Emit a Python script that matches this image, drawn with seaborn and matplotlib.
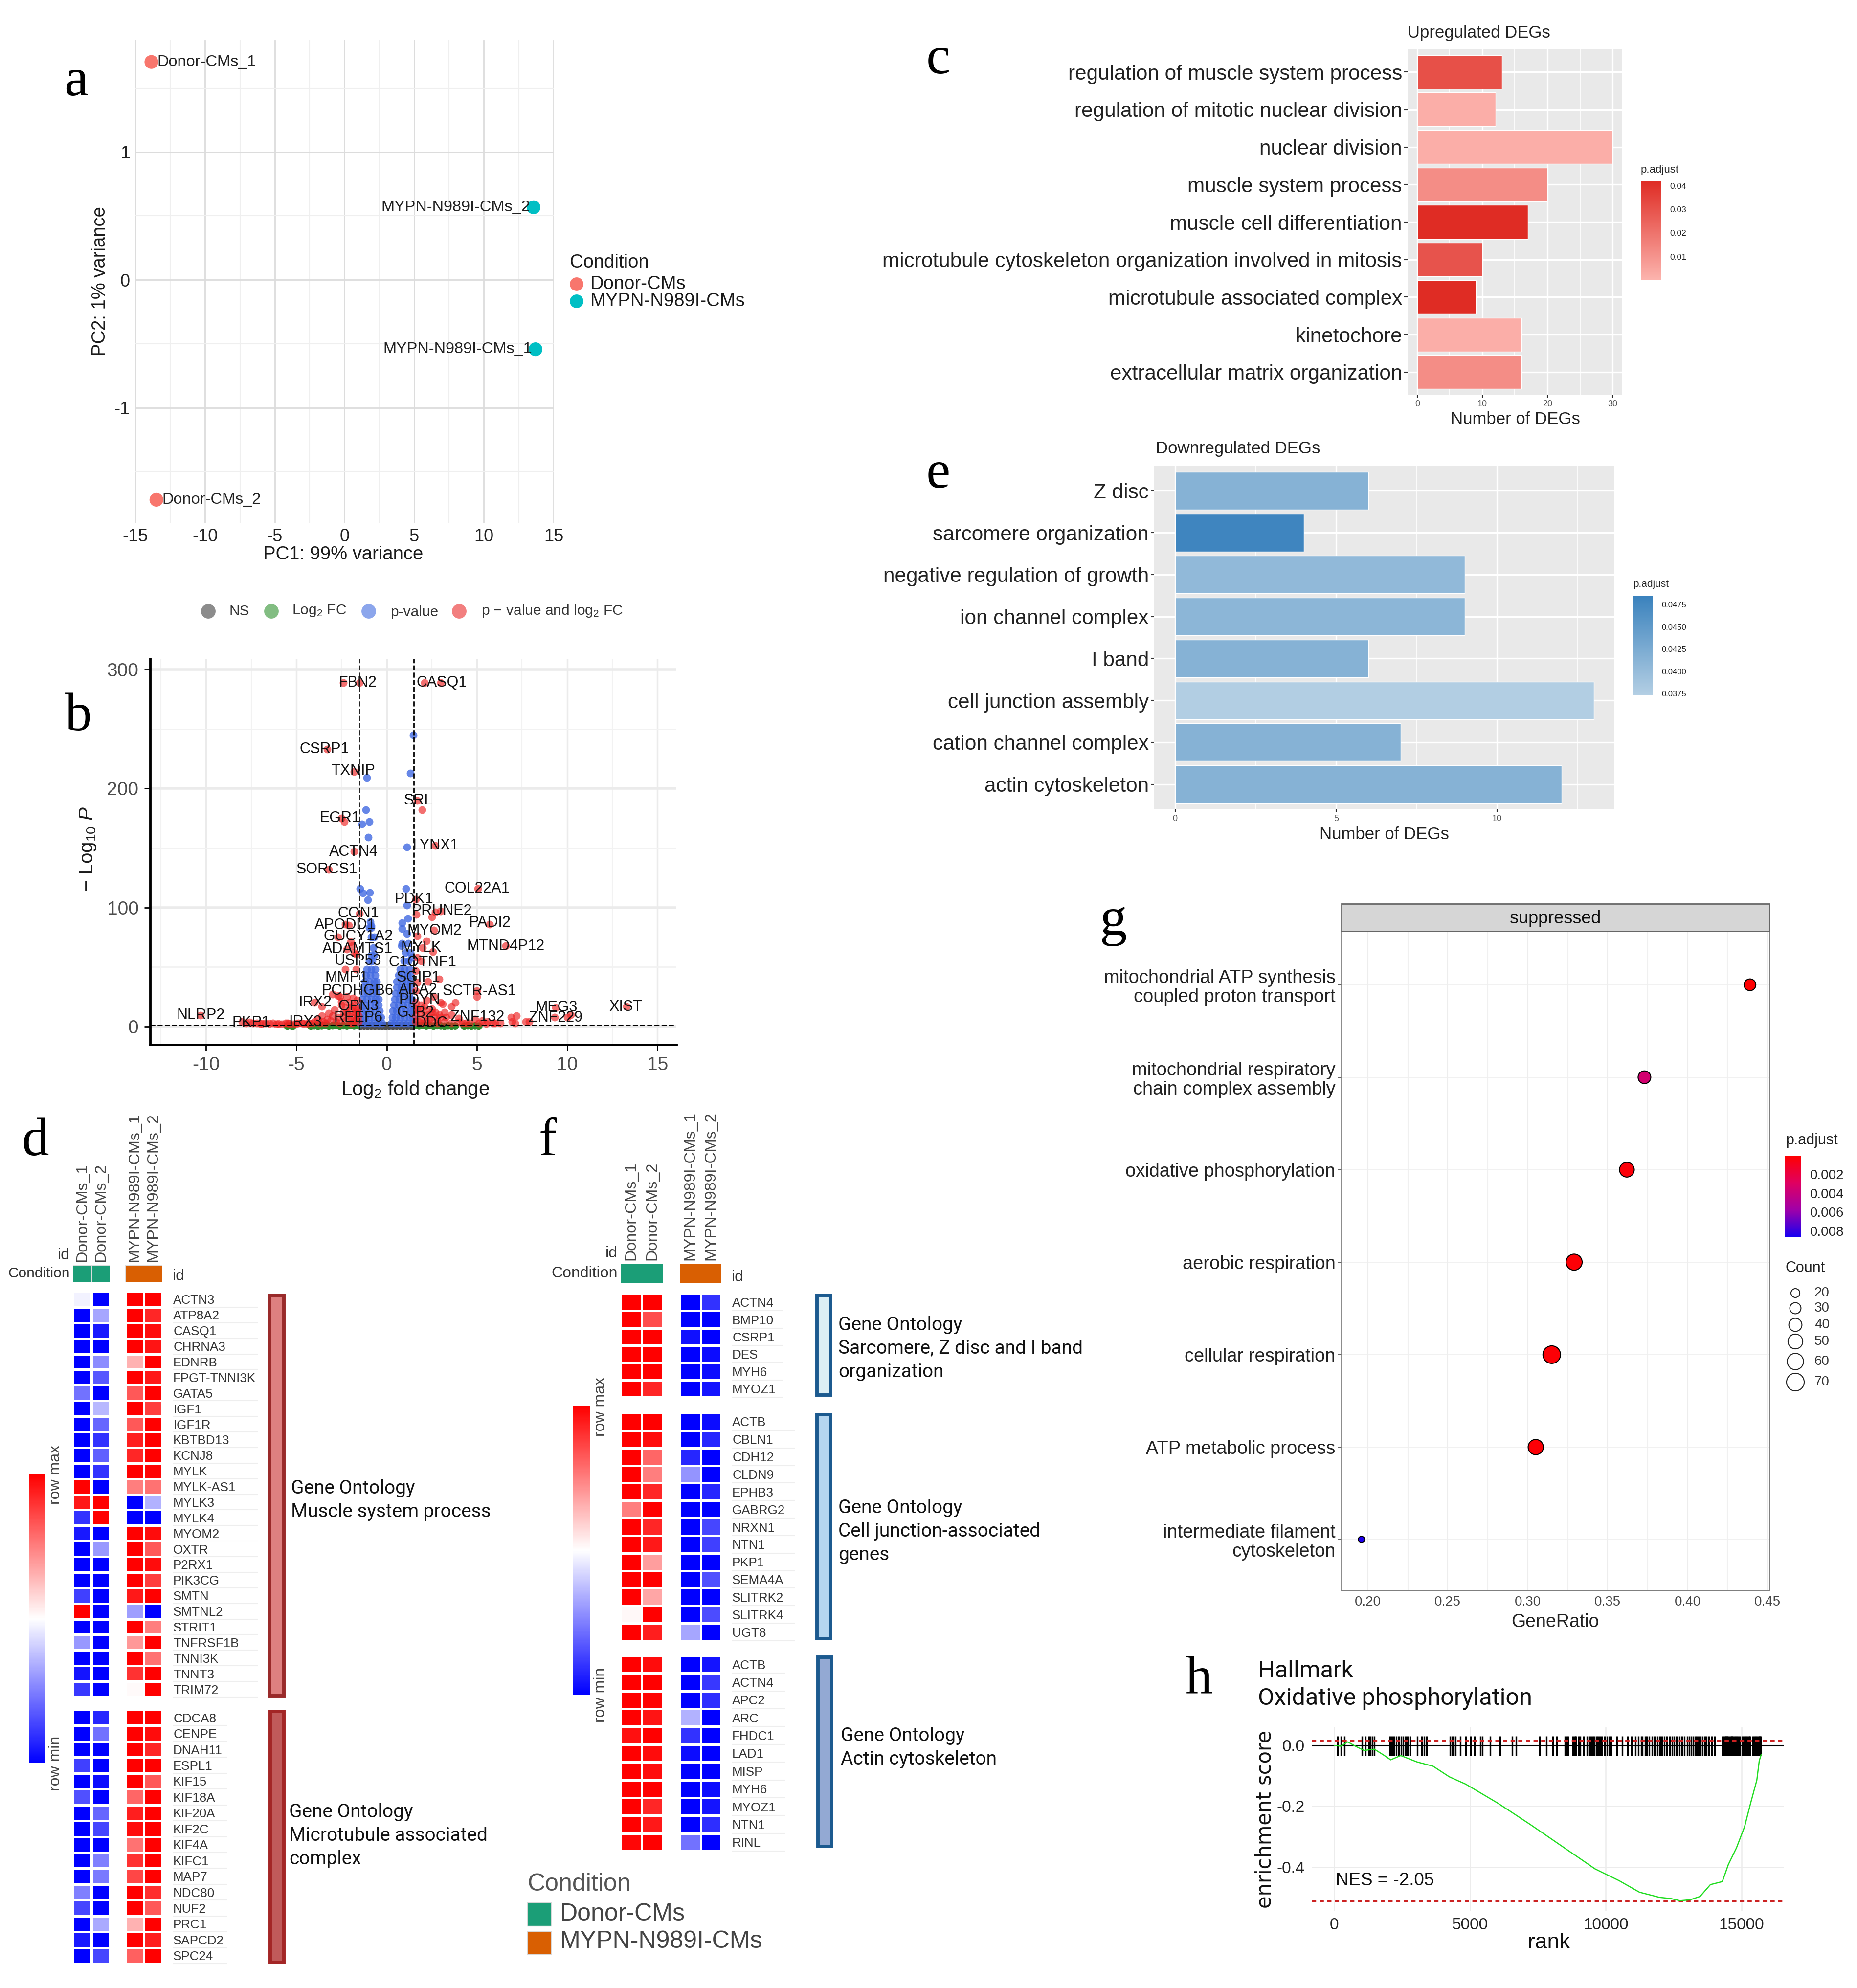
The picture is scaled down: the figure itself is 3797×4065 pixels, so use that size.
import matplotlib
matplotlib.use("Agg")
import matplotlib.pyplot as plt
import matplotlib as mpl
from matplotlib.colors import LinearSegmentedColormap, ListedColormap, Normalize
from matplotlib.patches import Rectangle
import numpy as np
import pandas as pd
import seaborn as sns

W, H = 3798, 4065

# panel a
pca_samples = ["Donor-CMs_1", "Donor-CMs_2", "MYPN-N989I-CMs_2", "MYPN-N989I-CMs_1"]
pca_condition = ["Donor-CMs", "Donor-CMs", "MYPN-N989I-CMs", "MYPN-N989I-CMs"]
pca_pc1 = [-13.86, -13.5, 13.56, 13.7]
pca_pc2 = [1.703, -1.72, 0.567, -0.543]

# panel b
volcano_genes = ["FBN2", "CASQ1", "CSRP1", "TXNIP", "SRL", "EGR1", "LYNX1", "ACTN4", "SORCS1", "COL22A1",
                 "PDK1", "PRUNE2", "CON1", "APODD1", "PADI2", "GUCY1A2", "MYOM2", "MTND4P12", "ADAMTS1",
                 "MYLK", "USP53", "C1QTNF1", "MMP1", "SGIP1", "PCDHGB6", "ADA2", "SCTR-AS1", "IRX2", "PDYN",
                 "OPN3", "MEG3", "XIST", "GJB2", "ZNF132", "ZNF229", "NLRP2", "PKP1", "IRX3", "REEP6", "DDC"]
volcano_label_x = [-1.6, 3.04, -3.45, -1.84, 1.75, -2.6, 2.71, -1.84, -3.3, 5.02,
                   1.5, 3.04, -1.56, -2.3, 5.7, -1.56, 2.64, 6.6, -1.6,
                   1.9, -1.6, 2.0, -2.23, 1.75, -1.6, 1.75, 5.13, -3.96, 1.82,
                   -1.56, 9.4, 13.25, 1.6, 5.04, 9.36, -10.3, -7.5, -4.5, -1.56, 2.5]
volcano_label_y = [289, 289, 233, 215, 190, 175, 152, 146.5, 132, 116,
                   107, 97, 95, 85, 87, 75.5, 80.5, 67.5, 65,
                   66, 55, 54, 41, 41, 30, 31, 29.5, 20, 22,
                   17, 16, 16.5, 11.5, 8, 7.5, 9.4, 3.3, 3.9, 7.4, 2.8]
grey_x = [-1.45, -1.25, -1.05, -0.85, -0.65, -0.45, -0.25, -0.05, 0.15, 0.35, 0.55, 0.75, 0.95, 1.15, 1.35, 1.45,
          -1.35, -1.15, -0.95, -0.75, -0.55, -0.35, -0.15, 0.05, 0.25, 0.45, 0.65, 0.85, 1.05, 1.25]
grey_y = [0.2, 0.3, 0.2, 0.3, 0.2, 0.3, 0.2, 0.2, 0.3, 0.2, 0.3, 0.2, 0.3, 0.2, 0.3, 0.2,
          0.9, 1.0, 0.9, 0.8, 0.9, 0.8, 0.7, 0.7, 0.8, 0.9, 0.8, 0.9, 1.0, 0.9]
green_x = [-5.5, -5.3, -5.2, -4.2, -4.0, -3.8, -3.6, -3.4, -3.2, -3.0, -2.8, -2.6, -2.4, -2.2, -2.0, -1.8, -1.6,
           1.6, 1.8, 2.0, 2.2, 2.4, 2.6, 2.8, 3.0, 3.2, 3.4, 3.6, 3.8, 4.3, 4.5, 4.7, 4.9, 5.1]
green_y = [0.3, 0.6, 0.2, 0.3, 0.6, 0.2, 0.5, 0.8, 0.3, 0.6, 0.9, 0.3, 0.7, 0.4, 0.9, 0.5, 1.0,
           1.0, 0.5, 0.9, 0.4, 0.8, 0.3, 0.7, 0.5, 0.2, 0.6, 0.3, 0.4, 0.3, 0.6, 0.3, 0.5, 0.3]
blue_x = [-1.45, -1.2, -0.95, -0.7, -0.45, -0.25, -1.45, -1.2, -0.95, -0.7, -0.45, -0.3,
          -1.4, -1.15, -0.9, -0.65, -0.4, -1.4, -1.15, -0.9, -0.65, -0.45,
          -1.35, -1.1, -0.85, -0.6, -0.45, -1.3, -1.05, -0.8, -0.55, -1.25, -1.0, -0.75, -0.55,
          -1.2, -0.95, -0.7, -0.55, -1.15, -0.9, -0.65, -1.1, -0.85, -0.65, -0.8, -0.95, -0.85, -0.7, -0.75,
          -0.85, -0.7, -0.95, -0.85, -0.9,
          -1.09, -1.14, -0.97, -1.37, -1.02, -1.49, -1.32, -0.93, -1.04, -0.86,
          0.25, 0.45, 0.7, 0.95, 1.2, 1.45, 0.3, 0.5, 0.75, 1.0, 1.25, 1.45,
          0.35, 0.55, 0.8, 1.05, 1.3, 1.45, 0.4, 0.65, 0.9, 1.15, 1.4,
          0.45, 0.7, 0.95, 1.2, 1.4, 0.5, 0.75, 1.0, 1.25, 0.55, 0.8, 1.05, 1.3,
          0.55, 0.85, 1.1, 1.3, 0.65, 0.9, 1.15, 1.3, 0.75, 1.0, 1.25, 0.95, 1.2, 1.05, 1.3, 0.85, 1.2,
          1.47, 1.31, 1.12, 1.08, 1.12, 1.17, 0.84, 0.84, 1.12, 0.82, 1.4]
blue_y = [3, 3, 3, 3, 3, 3, 8, 8, 8, 8, 8, 8,
          13, 13, 13, 13, 13, 18, 18, 18, 18, 18,
          23, 23, 23, 23, 23, 28, 28, 28, 28, 33, 33, 33, 33,
          38, 38, 38, 38, 43, 43, 43, 48, 48, 48, 55, 55, 60, 60, 66,
          75, 75, 83, 83, 88,
          209, 182, 172, 170, 159, 116, 112, 112.7, 106.6, 84.6,
          3, 3, 3, 3, 3, 3, 8, 8, 8, 8, 8, 8,
          13, 13, 13, 13, 13, 13, 18, 18, 18, 18, 18,
          23, 23, 23, 23, 23, 28, 28, 28, 28, 33, 33, 33, 33,
          38, 38, 38, 38, 43, 43, 43, 43, 48, 48, 48, 55, 55, 62, 62, 70, 70,
          245, 213, 151, 116, 102, 91, 87, 82, 78, 68, 58]
red_x = [-10.3, -8.0, -7.6, -7.2, -6.9, -6.5, -6.1, -5.8, -5.5, -5.2, -4.9, -4.6, -4.3, -4.0, -3.8, -3.6, -3.4, -3.2,
         -3.1, -2.9, -2.8, -2.7, -2.6, -2.5, -2.4, -2.3, -2.2, -2.1, -2.0, -1.95, -1.9, -1.85, -1.8, -1.75, -1.7,
         -1.65, -1.6, -1.55, -1.55, -4.0, -3.6, -2.3, -1.7, -1.5, -2.3, -2.1, -2.7, -2.0, -1.9, -1.7, -2.2, -1.8,
         -3.3, -1.8, -2.5, -2.35, -1.8, -3.2, -2.4, -1.5, -3.0, -2.7,
         -7.8, -7.4, -7.0, -6.7, -6.3, -6.0, -5.6, -5.4, -5.0, -4.7, -4.4, -4.1, -3.7, -3.5, -3.3, -3.0, -2.6, -2.4, -2.2,
         -2.0, -1.8, -1.6, -2.5, -2.3, -2.1, -1.9, -1.7,
         2.1, 3.0, 1.7, 1.95, 2.7, 5.05, 1.6, 2.7, 3.0, 2.5, 1.65, 5.7, 2.6, 1.7, 2.2, 2.0, 6.6, 2.55, 1.7, 1.9, 1.6,
         2.9, 2.3, 1.7, 1.6, 5.0, 5.0, 3.0, 3.1, 3.8, 3.6, 2.6, 2.2, 1.9, 1.6, 1.7, 2.1, 2.5, 2.9, 3.3, 3.6, 4.0,
         1.6, 2.0, 2.4, 2.8, 3.2, 3.6, 4.0, 4.4, 4.9, 5.3, 5.6, 6.0, 6.3, 6.9, 6.95, 7.1, 7.2, 7.7, 7.9,
         9.35, 9.3, 10.2, 10.0, 13.3,
         1.6, 1.8, 2.0, 2.2, 2.4, 2.6, 2.8, 3.0, 3.2, 1.7, 1.9, 2.1, 2.3, 2.5, 2.7, 4.2, 4.6, 5.1, 5.5, 5.9]
red_y = [9.4, 4, 3.5, 3, 2.5, 2.5, 2, 2, 3, 2, 3, 2.5, 3, 4, 6, 9, 3, 11,
         5, 14, 4, 8, 25, 18, 12, 5, 25, 20, 14, 8, 3, 24, 18, 12, 6,
         22, 15, 9, 4, 20, 17, 48, 48, 95, 86, 85, 75, 71, 68, 61, 65, 62,
         233, 214, 175, 172, 147, 132, 289, 289, 27, 26,
         3, 3, 2.5, 3, 3, 2.5, 3, 2.5, 2.5, 3, 2.5, 3, 3, 4, 6, 9, 3, 8, 12,
         3, 5, 13, 21, 16, 9, 17, 11,
         289, 289, 190, 182, 152, 116, 107, 96, 97, 92, 94, 86, 81, 76, 72, 66, 68, 63, 58, 55, 47,
         40, 38, 37, 30, 30, 25, 20, 19, 20, 17, 25, 22, 18, 20, 14, 13, 12, 10, 8, 10, 7,
         9, 7, 6, 5, 4, 3, 3.5, 3, 6, 5, 4, 3, 3, 8, 4, 3, 9, 4, 4,
         16, 8, 10, 8, 17,
         4, 4, 3, 4, 3, 8, 3, 8, 12, 15, 11, 17, 10, 15, 12, 3, 3, 3, 2.5, 3]

# panel c
up_terms = ["regulation of muscle system process", "regulation of mitotic nuclear division", "nuclear division",
            "muscle system process", "muscle cell differentiation",
            "microtubule cytoskeleton organization involved in mitosis", "microtubule associated complex",
            "kinetochore", "extracellular matrix organization"]
up_counts = [13, 12, 30, 20, 17, 10, 9, 16, 16]
up_padj = [0.031, 0.002, 0.002, 0.012, 0.042, 0.030, 0.042, 0.002, 0.012]

# panel e
down_terms = ["Z disc", "sarcomere organization", "negative regulation of growth", "ion channel complex", "I band",
              "cell junction assembly", "cation channel complex", "actin cytoskeleton"]
down_counts = [6, 4, 9, 9, 6, 13, 7, 12]
down_padj = [0.0415, 0.0480, 0.0405, 0.0410, 0.0415, 0.0375, 0.0415, 0.0415]

# panel d
d_muscle_genes = ["ACTN3", "ATP8A2", "CASQ1", "CHRNA3", "EDNRB", "FPGT-TNNI3K", "GATA5", "IGF1", "IGF1R", "KBTBD13",
                  "KCNJ8", "MYLK", "MYLK-AS1", "MYLK3", "MYLK4", "MYOM2", "OXTR", "P2RX1", "PIK3CG", "SMTN", "SMTNL2",
                  "STRIT1", "TNFRSF1B", "TNNI3K", "TNNT3", "TRIM72"]
d_muscle_vals = [[-0.05, -1, 1, 1], [-1, -0.35, 1, 0.85], [-1, -0.9, 1, 0.95], [-1, -1, 1, 0.92], [-1, -0.45, 0.3, 1],
                 [-1, -0.65, 1, 0.9], [-0.55, -1, 0.65, 1], [-1, -0.28, 1, 0.75], [-1, -0.6, 0.65, 1],
                 [-1, -0.8, 0.88, 1], [-1, -0.62, 0.85, 1], [-1, -0.8, 1, 0.98], [1, -1, 0.5, 0.55],
                 [0.9, 1, -1, -0.3], [-0.8, 1, -1, -1], [-0.9, -1, 1, 0.95], [-1, -0.4, 1, 0.65], [-1, -1, 1, 0.95],
                 [-1, -1, 1, 0.75], [-0.75, -1, 0.9, 1], [1, -1, -0.38, -1], [-1, -1, 1, 0.5], [-0.4, -1, 0.4, 1],
                 [-1, -1, 1, 0.55], [-0.92, -1, 0.8, 1], [-0.78, -1, 0.02, 1]]
d_micro_genes = ["CDCA8", "CENPE", "DNAH11", "ESPL1", "KIF15", "KIF18A", "KIF20A", "KIF2C", "KIF4A", "KIFC1", "MAP7",
                 "NDC80", "NUF2", "PRC1", "SAPCD2", "SPC24"]
d_micro_vals = [[-1, -0.85, 1, 1], [-1, -0.55, 1, 0.95], [-1, -1, 1, 0.85], [-0.75, -1, 1, 1], [-1, -0.95, 1, 0.65],
                [-0.68, -1, 0.6, 1], [-1, -0.6, 0.88, 1], [-1, -0.72, 0.95, 1], [-1, -1, 0.55, 1], [-1, -0.5, 0.8, 1],
                [-1, -0.52, 0.72, 1], [-0.5, -1, 1, 0.82], [-0.72, -1, 1, 0.65], [-1, -0.33, 0.3, 1],
                [-0.9, -1, 1, 0.88], [-1, -0.72, 0.62, 1]]

# panel f
f_sarc_genes = ["ACTN4", "BMP10", "CSRP1", "DES", "MYH6", "MYOZ1"]
f_sarc_vals = [[1, 1, -1, -0.8], [1, 0.7, -1, -1], [1, 1, -0.93, -1], [1, 1, -1, -0.95], [1, 1, -1, -0.95],
               [1, 0.85, -1, -0.92]]
f_junc_genes = ["ACTB", "CBLN1", "CDH12", "CLDN9", "EPHB3", "GABRG2", "NRXN1", "NTN1", "PKP1", "SEMA4A", "SLITRK2",
                "SLITRK4", "UGT8"]
f_junc_vals = [[1, 1, -1, -0.95], [1, 0.95, -1, -0.85], [1, 0.6, -0.85, -1], [1, 0.5, -0.42, -1], [1, 0.85, -1, -0.85],
               [0.5, 1, -1, -1], [1, 0.85, -1, -0.72], [1, 0.9, -1, -0.75], [1, 0.38, -1, -1], [1, 1, -1, -0.68],
               [1, 0.35, -1, -1], [0.03, 1, -1, -0.7], [1, 0.88, -0.35, -1]]
f_actin_genes = ["ACTB", "ACTN4", "APC2", "ARC", "FHDC1", "LAD1", "MISP", "MYH6", "MYOZ1", "NTN1", "RINL"]
f_actin_vals = [[1, 0.95, -1, -0.92], [1, 1, -1, -0.78], [1, 0.98, -1, -0.82], [1, 0.92, -0.3, -1], [0.93, 1, -0.8, -1],
                [1, 0.95, -0.95, -1], [1, 0.95, -1, -1], [1, 1, -1, -0.95], [1, 0.85, -1, -0.92], [1, 0.9, -1, -0.82],
                [0.97, 1, -0.55, -1]]
sample_donor = ["Donor-CMs_1", "Donor-CMs_2"]
sample_mypn = ["MYPN-N989I-CMs_1", "MYPN-N989I-CMs_2"]

# panel g
gsea_terms = ["mitochondrial ATP synthesis\ncoupled proton transport", "mitochondrial respiratory\nchain complex assembly",
              "oxidative phosphorylation", "aerobic respiration", "cellular respiration", "ATP metabolic process",
              "intermediate filament\ncytoskeleton"]
gsea_ratio = [0.439, 0.373, 0.362, 0.329, 0.315, 0.305, 0.196]
gsea_count = [33, 38, 50, 59, 70, 53, 12]
gsea_padj = [0.0001, 0.0035, 0.0003, 0.0002, 0.0002, 0.0002, 0.0085]
count_levels = [20, 30, 40, 50, 60, 70]

# panel h
es_rank = [0, 250, 500, 800, 1100, 1480, 1800, 2080, 2450, 3050, 3640, 4240, 4840, 6030, 7220, 8410, 9600, 10490, 11240,
           11980, 12400, 12730, 13100, 13470, 13850, 14290, 14510, 14810, 15110, 15330, 15560, 15650, 15720]
es_score = [0, -0.002, 0.012, -0.003, -0.016, -0.012, -0.03, -0.047, -0.033, -0.054, -0.068, -0.103, -0.127, -0.19, -0.26,
            -0.333, -0.406, -0.445, -0.483, -0.5, -0.504, -0.511, -0.508, -0.497, -0.458, -0.448, -0.392, -0.337, -0.267,
            -0.19, -0.114, -0.05, -0.03]
es_limits = [0.017, -0.512]
hit_ranks = [134, 253, 387, 1030, 1150, 1280, 1340, 1400, 1480, 2060, 2120, 2200, 2290, 2380, 2470, 2530, 2620, 2710, 2800,
             3060, 3220, 3310, 3400, 4260, 4340, 4400, 4470, 4650, 4840, 5020, 5170, 5380, 5450, 5750, 6100, 6560, 6700,
             7560, 7820, 8050, 8200, 8500, 8560, 8600, 8790, 8850, 8900, 9000, 9060, 9180, 9300, 9380, 9450, 9520, 9580,
             9650, 9700, 9770, 9850, 9950, 10050, 10130, 10200, 10400, 10600, 10800, 10950, 11100, 11200, 11300, 11350,
             11450, 11500, 11600, 11700, 11800, 11900, 12000, 12060, 12150, 12250, 12350, 12450, 12520, 12600, 12720,
             12800, 12900, 13000, 13080, 13150, 13220, 13280, 13350, 13420, 13480, 13560, 13640, 13700, 13800, 13900,
             14000, 14300, 14340, 14380, 14420, 14460, 14500, 14540, 14600, 14640, 14680, 14720, 14760, 14800, 14840,
             14880, 14920, 15020, 15060, 15100, 15140, 15180, 15220, 15260, 15300, 15420, 15460, 15500, 15540, 15580,
             15620, 15660, 15700]

sns.set_theme(style="white")
plt.rcParams["font.family"] = ["Liberation Sans", "DejaVu Sans"]
plt.rcParams["mathtext.fontset"] = "custom"
plt.rcParams["mathtext.rm"] = "Liberation Sans"
plt.rcParams["mathtext.it"] = "Liberation Sans:italic"
plt.rcParams["mathtext.default"] = "regular"
plt.rcParams["axes.unicode_minus"] = False

fig = plt.figure(figsize=(W / 100, H / 100), dpi=100, facecolor="white")


def px_axes(x0, y0, x1, y1, **kw):
    return fig.add_axes([x0 / W, 1 - y1 / H, (x1 - x0) / W, (y1 - y0) / H], **kw)


overlay = px_axes(0, 0, W, H)
overlay.set_xlim(0, W)
overlay.set_ylim(H, 0)
overlay.axis("off")
overlay.set_zorder(20)


def put(x, y, s, size, ha="left", va="center", color="#1a1a1a", **kw):
    overlay.text(x, y, s, fontsize=size, ha=ha, va=va, color=color, **kw)


def panel_letter(x, y, s):
    put(x, y, s, 80, ha="center", color="black", family="Liberation Serif")


def grid_lines(ax, color_major, lw_major, color_minor, lw_minor, axis="both"):
    ax.grid(True, which="major", axis=axis, color=color_major, lw=lw_major)
    ax.grid(True, which="minor", axis=axis, color=color_minor, lw=lw_minor)
    ax.set_axisbelow(True)


# ---- a: PCA
ax = px_axes(277, 82, 1132, 1069)
pca = pd.DataFrame({"PC1": pca_pc1, "PC2": pca_pc2, "Condition": pca_condition})
condition_colors = {"Donor-CMs": "#f8766d", "MYPN-N989I-CMs": "#00bfc4"}
sns.scatterplot(data=pca, x="PC1", y="PC2", hue="Condition", palette=condition_colors, s=410, linewidth=0,
                legend=False, clip_on=False, ax=ax)
ax.set_xlim(-15, 15)
ax.set_ylim(-1.9, 1.874)
ax.set_xticks(range(-15, 16, 5))
ax.set_xticks(np.arange(-12.5, 15, 5), minor=True)
ax.set_yticks([-1, 0, 1])
ax.set_yticks([-1.5, -0.5, 0.5, 1.5], minor=True)
grid_lines(ax, "#dcdcdc", 2, "#efefef", 1.5)
sns.despine(ax=ax, left=True, bottom=True)
ax.tick_params(which="both", length=0, labelsize=26, pad=8, labelcolor="#222222")
ax.set_xlabel("")
ax.set_ylabel("")
for name, px, py in zip(pca_samples, pca_pc1, pca_pc2):
    if px < 0:
        ax.text(px + 0.4, py, name, fontsize=23.4, va="center", ha="left", color="#222222")
    else:
        ax.text(px - 0.25, py, name, fontsize=23.4, va="center", ha="right", color="#222222")
put(702, 1134, "PC1: 99% variance", 27.5, ha="center")
put(205, 575, "PC2: 1% variance", 27.5, ha="center", rotation=90)
put(1165, 537, "Condition", 27.5)
overlay.scatter([1179, 1179], [581, 616], s=400, c=["#f8766d", "#00bfc4"], linewidths=0)
put(1207, 581, "Donor-CMs", 27.5)
put(1207, 616, "MYPN-N989I-CMs", 27.5)
panel_letter(156, 168, "a")

# ---- b: volcano
ax = px_axes(307, 1347, 1383, 2136)
volcano = pd.concat([
    pd.DataFrame({"x": grey_x, "y": grey_y, "group": "NS"}),
    pd.DataFrame({"x": green_x, "y": green_y, "group": "FC"}),
    pd.DataFrame({"x": blue_x, "y": blue_y, "group": "P"}),
    pd.DataFrame({"x": red_x, "y": red_y, "group": "both"}),
])
volcano_colors = {"NS": "#4d4d4d", "FC": "#2e8b2e", "P": "#4169e1", "both": "#ee2222"}
sns.scatterplot(data=volcano[volcano.group.isin(["NS", "FC"])], x="x", y="y", hue="group", palette=volcano_colors,
                s=130, linewidth=0, legend=False, ax=ax)
sns.scatterplot(data=volcano[volcano.group == "P"], x="x", y="y", color=volcano_colors["P"], s=130, alpha=0.8,
                linewidth=0, legend=False, ax=ax)
sns.scatterplot(data=volcano[volcano.group == "both"], x="x", y="y", color=volcano_colors["both"], s=130, alpha=0.65,
                linewidth=0, legend=False, ax=ax)
ax.set_xlim(-13.1, 16.05)
ax.set_ylim(-15.2, 309)
ax.set_xticks(range(-10, 16, 5))
ax.set_xticks(np.arange(-12.5, 16, 5), minor=True)
ax.set_yticks([0, 100, 200, 300])
ax.set_yticks([50, 150, 250], minor=True)
grid_lines(ax, "#ebebeb", 2.5, "#f2f2f2", 1.5, axis="x")
grid_lines(ax, "#ebebeb", 4, "#f2f2f2", 2, axis="y")
ax.axvline(-1.5, color="#222222", ls="--", lw=2)
ax.axvline(1.5, color="black", ls="--", lw=2)
ax.axhline(1.3, color="black", ls="--", lw=2)
sns.despine(ax=ax)
for side in ["left", "bottom"]:
    ax.spines[side].set_linewidth(3.5)
    ax.spines[side].set_color("black")
ax.tick_params(which="major", length=9, width=2, bottom=True, left=True, labelsize=28, labelcolor="#4d4d4d", color="black", pad=8)
ax.tick_params(which="minor", length=0)
ax.set_xlabel("")
ax.set_ylabel("")
for name, tx, ty in zip(volcano_genes, volcano_label_x, volcano_label_y):
    ax.text(tx, ty, name, fontsize=22, ha="center", va="center", color="#111111")
put(849, 2228, "Log$_2$ fold change", 29, ha="center")
put(180, 1736, r"$-$ Log$_{10}$ $\mathit{P}$", 29, ha="center", rotation=90)
overlay.scatter([426, 555, 754, 939], [1250] * 4, s=460, c=["#8c8c8c", "#82bd82", "#8ca6ec", "#f27f7f"], linewidths=0)
put(489, 1250, "NS", 21.5, ha="center", color="#333333")
put(653, 1249, "Log$_2$ FC", 21.5, ha="center", color="#333333")
put(847, 1252, "p-value", 21.5, ha="center", color="#333333")
put(1129, 1249, "p \u2212 value and log$_2$ FC", 21.5, ha="center", color="#333333")
panel_letter(161, 1466, "b")


# ---- c, e: enrichment bars
def enrichment_bars(box, terms, counts, padj, cmap, norm, xticks, xminor, xlim, n_pad):
    ax = px_axes(*box)
    table = pd.DataFrame({"term": terms, "count": counts})
    palette = {t: cmap(norm(p)) for t, p in zip(terms, padj)}
    sns.barplot(data=table, y="term", x="count", hue="term", palette=palette, dodge=False, legend=False, width=0.9,
                saturation=1, ax=ax)
    ax.set_facecolor("#e9e9e9")
    ax.set_xlim(*xlim)
    ax.set_ylim(len(terms) - 1 + n_pad, -n_pad)
    ax.set_xticks(xticks)
    ax.set_xticks(xminor, minor=True)
    ax.grid(True, which="major", color="white", lw=2.4)
    ax.grid(True, which="minor", axis="x", color="white", lw=1.2)
    ax.set_axisbelow(True)
    sns.despine(ax=ax, left=True, bottom=True, top=True, right=True)
    ax.tick_params(axis="y", length=5, width=1.5, left=True, labelsize=30.4, pad=3, labelcolor="#222222", color="#333333")
    ax.tick_params(axis="x", which="major", length=4, width=1.5, bottom=True, labelsize=13, labelcolor="#555555", pad=4)
    ax.tick_params(axis="x", which="minor", length=0)
    ax.set_xlabel("")
    ax.set_ylabel("")
    return ax


def gradient_bar(box, cmap, norm, ticks, labels, size, invert=False):
    cax = px_axes(*box)
    cb = mpl.colorbar.ColorbarBase(cax, cmap=cmap, norm=norm, ticks=ticks)
    cb.ax.set_yticklabels(labels)
    cb.outline.set_visible(False)
    cb.ax.tick_params(length=0, labelsize=size, labelcolor="#222222", pad=13)
    if invert:
        cax.invert_yaxis()
    return cb


up_cmap = LinearSegmentedColormap.from_list("up", ["#fcb4ae", "#df2c24"])
up_norm = Normalize(0, 0.042)
enrichment_bars((2878, 101, 3317, 807), up_terms, up_counts, up_padj, up_cmap, up_norm, [0, 10, 20, 30], [5, 15, 25],
                (-1.5, 31.5), 0.6)
put(2878, 67, "Upregulated DEGs", 25, color="#222222")
put(3098, 857, "Number of DEGs", 25, ha="center", color="#222222")
put(3355, 347, "p.adjust", 16, color="#222222")
gradient_bar((3356, 370, 3396, 573), up_cmap, up_norm, [0.01, 0.02, 0.03, 0.04], ["0.01", "0.02", "0.03", "0.04"], 12.5)
panel_letter(1918, 123, "c")

down_cmap = LinearSegmentedColormap.from_list("down", ["#b4cfe4", "#3a82bd"])
down_norm = Normalize(0.0373, 0.0485)
enrichment_bars((2360, 952, 3300, 1655), down_terms, down_counts, down_padj, down_cmap, down_norm, [0, 5, 10],
                [2.5, 7.5, 12.5], (-0.65, 13.63), 0.6)
put(2363, 917, "Downregulated DEGs", 25, color="#222222")
put(2830, 1706, "Number of DEGs", 25, ha="center", color="#222222")
put(3340, 1195, "p.adjust", 15, color="#222222")
gradient_bar((3338, 1218, 3379, 1422), down_cmap, down_norm, [0.0375, 0.04, 0.0425, 0.045, 0.0475],
             ["0.0375", "0.0400", "0.0425", "0.0450", "0.0475"], 12)
panel_letter(1918, 970, "e")


# ---- d, f: heatmaps
def heat_group(vals, genes, donor_x, mypn_x, y0, y1, line_w):
    arr = np.array(vals)
    ax_d = px_axes(donor_x[0], y0, donor_x[1], y1)
    sns.heatmap(arr[:, :2], cmap="bwr", vmin=-1, vmax=1, cbar=False, linewidths=2.2, linecolor="white",
                xticklabels=False, yticklabels=False, ax=ax_d)
    ax_m = px_axes(mypn_x[0], y0, mypn_x[1], y1)
    sns.heatmap(arr[:, 2:], cmap="bwr", vmin=-1, vmax=1, cbar=False, linewidths=2.2, linecolor="white",
                xticklabels=False, yticklabels=genes, ax=ax_m)
    ax_m.yaxis.tick_right()
    ax_m.tick_params(axis="y", length=0, labelsize=18.7, labelcolor="#333333", pad=16, labelrotation=0)
    step = (y1 - y0) / len(genes)
    label_x = mypn_x[1] + 22
    overlay.hlines([y0 + step * (i + 1) for i in range(len(genes))], label_x, label_x + line_w, color="#eeeeee", lw=1.5)


def condition_bars(donor_x, mypn_x, y0, y1):
    for xs, code, names, color in [(donor_x, 0, sample_donor, "#1b9e77"), (mypn_x, 1, sample_mypn, "#d95f02")]:
        ax = px_axes(xs[0], y0, xs[1], y1)
        sns.heatmap([[code, code]], cmap=ListedColormap(["#1b9e77", "#d95f02"]), vmin=0, vmax=1, cbar=False,
                    linewidths=0.6, linecolor="#dddddd", xticklabels=names, yticklabels=False, ax=ax)
        ax.xaxis.tick_top()
        ax.tick_params(axis="x", length=0, labelsize=23.3, labelrotation=90, labelcolor="#444444", pad=5)


def bracket(x0, x1, y0, y1, face, edge):
    overlay.add_patch(Rectangle((x0, y0), x1 - x0, y1 - y0, facecolor=face, edgecolor=edge, lw=5))


def row_scale(box):
    cax = px_axes(*box)
    mpl.colorbar.ColorbarBase(cax, cmap="bwr", norm=Normalize(-1, 1), ticks=[]).outline.set_visible(False)


d_donor, d_mypn = (149, 225), (256, 332)
condition_bars(d_donor, d_mypn, 2587, 2622)
heat_group(d_muscle_vals, d_muscle_genes, d_donor, d_mypn, 2641, 3470, 174)
heat_group(d_micro_vals, d_micro_genes, d_donor, d_mypn, 3496, 4015, 110)
put(143, 2604, "Condition", 21.5, ha="right", color="#333333")
put(143, 2567, "id", 23, ha="right", color="#333333")
put(353, 2610, "id", 23, color="#333333")
row_scale((60, 3015, 92, 3605))
put(114, 3015, "row max", 23, ha="center", rotation=90, color="#444444")
put(114, 3606, "row min", 23, ha="center", rotation=90, color="#444444")
bracket(551, 580, 2648, 3467, "#de8080", "#992a2a")
bracket(552, 580, 3499, 4012, "#c05a5a", "#a32626")
put(595, 3043, "Gene Ontology", 28, family="Roboto", color="#111111")
put(595, 3092, "Muscle system process", 28, family="Roboto", color="#111111")
put(591, 3706, "Gene Ontology", 28, family="Roboto", color="#111111")
put(591, 3753, "Microtubule associated", 28, family="Roboto", color="#111111")
put(591, 3802, "complex", 28, family="Roboto", color="#111111")
panel_letter(73, 2335, "d")

f_donor, f_mypn = (1269, 1355), (1390, 1475)
condition_bars(f_donor, f_mypn, 2584, 2624)
heat_group(f_sarc_vals, f_sarc_genes, f_donor, f_mypn, 2645, 2857, 103)
heat_group(f_junc_vals, f_junc_genes, f_donor, f_mypn, 2889, 3355, 128)
heat_group(f_actin_vals, f_actin_genes, f_donor, f_mypn, 3385, 3785, 108)
put(1263, 2604, "Condition", 23, ha="right", color="#333333")
put(1263, 2563, "id", 23, ha="right", color="#333333")
put(1496, 2612, "id", 23, color="#333333")
row_scale((1172, 2875, 1206, 3465))
put(1228, 2876, "row max", 23, ha="center", rotation=90, color="#444444")
put(1228, 3466, "row min", 23, ha="center", rotation=90, color="#444444")
bracket(1670, 1698, 2648, 2852, "#dceff5", "#1c5a8f")
bracket(1670, 1698, 2892, 3350, "#b5d6f0", "#1c5a8f")
bracket(1672, 1700, 3388, 3775, "#93a9d3", "#1c5a8f")
put(1714, 2709, "Gene Ontology", 28, family="Roboto", color="#111111")
put(1714, 2757, "Sarcomere, Z disc and I band", 28, family="Roboto", color="#111111")
put(1714, 2806, "organization", 28, family="Roboto", color="#111111")
put(1714, 3083, "Gene Ontology", 28, family="Roboto", color="#111111")
put(1714, 3131, "Cell junction-associated", 28, family="Roboto", color="#111111")
put(1714, 3179, "genes", 28, family="Roboto", color="#111111")
put(1719, 3550, "Gene Ontology", 28, family="Roboto", color="#111111")
put(1719, 3598, "Actin cytoskeleton", 28, family="Roboto", color="#111111")
put(1079, 3853, "Condition", 36, color="#555555")
overlay.add_patch(Rectangle((1078, 3890), 49, 48, facecolor="#1b9e77", edgecolor="#d8d8d8", lw=1))
overlay.add_patch(Rectangle((1078, 3949), 49, 47, facecolor="#d95f02", edgecolor="#d8d8d8", lw=1))
put(1145, 3914, "Donor-CMs", 36, color="#444444")
put(1145, 3970, "MYPN-N989I-CMs", 36, color="#444444")
panel_letter(1120, 2335, "f")

# ---- g: GSEA dot plot
ax = px_axes(2743, 1904, 3618, 3252)
gsea = pd.DataFrame({"term": gsea_terms, "ratio": gsea_ratio, "count": gsea_count, "padj": gsea_padj})
gsea_cmap = LinearSegmentedColormap.from_list("gsea", ["#ff0000", "#e00060", "#a000a8", "#1800f0"])
sns.scatterplot(data=gsea, x="ratio", y="term", hue="padj", hue_norm=(0, 0.00865), palette=gsea_cmap, size="count",
                sizes=(68, 672), size_norm=(10, 70), edgecolor="black", linewidth=1.5, legend=False, ax=ax)
ax.set_xlim(0.1835, 0.4512)
ax.set_ylim(6.55, -0.58)
ax.set_xticks([0.20, 0.25, 0.30, 0.35, 0.40, 0.45])
ax.set_xticklabels(["0.20", "0.25", "0.30", "0.35", "0.40", "0.45"])
ax.set_xticks(np.arange(0.225, 0.45, 0.05), minor=True)
grid_lines(ax, "#ededed", 1.5, "#f0f0f0", 1.5)
ax.grid(True, which="major", axis="y", color="#efefef", lw=1.2)
for spine in ax.spines.values():
    spine.set_color("#7f7f7f")
    spine.set_linewidth(2)
ax.tick_params(axis="y", length=6, width=1.2, left=True, labelsize=27.4, pad=3, labelcolor="#222222", color="#444444")
ax.tick_params(axis="x", which="major", length=0, labelsize=20, pad=8, labelcolor="#444444")
ax.tick_params(axis="x", which="minor", length=0)
for lab in ax.get_yticklabels():
    lab.set_linespacing(1.12)
ax.set_xlabel("")
ax.set_ylabel("")
overlay.add_patch(Rectangle((2743, 1848), 875, 56, facecolor="#d6d6d6", edgecolor="#666666", lw=2))
put(3180, 1878, "suppressed", 26, ha="center", color="#111111")
put(3180, 3317, "GeneRatio", 27, ha="center", color="#222222")
put(3651, 2332, "p.adjust", 22, color="#222222")
gradient_bar((3650, 2363, 3683, 2529), gsea_cmap, Normalize(0, 0.00865), [0.002, 0.004, 0.006, 0.008],
             ["0.002", "0.004", "0.006", "0.008"], 20, invert=True)
put(3651, 2593, "Count", 22, color="#222222")
legend_y = [2644, 2675, 2709, 2743, 2784, 2826]
overlay.scatter([3671] * 6, legend_y, s=[169 + (c - 20) * 10.07 for c in count_levels], facecolor="white",
                edgecolor="#222222", linewidths=1.5)
for c, ly in zip(count_levels, legend_y):
    put(3710, ly, str(c), 20, color="#333333")
panel_letter(2276, 1885, "g")

# ---- h: running enrichment score
ax = px_axes(2682, 3532, 3648, 3907)
ax.set_xlim(-828, 16565)
ax.set_ylim(-0.544, 0.06)
ax.set_xticks([0, 5000, 10000, 15000])
ax.set_yticks([-0.4, -0.2, 0])
ax.set_yticklabels(["-0.4", "-0.2", "0.0"])
ax.grid(True, which="major", color="#ececec", lw=1.8)
ax.set_axisbelow(True)
sns.despine(ax=ax, left=True, bottom=True)
ax.vlines(hit_ranks, -0.033, 0.031, color="black", lw=2.4)
ax.axhline(0, color="black", lw=2.2)
for lim in es_limits:
    ax.axhline(lim, color="#cc2222", ls=(0, (2.5, 2)), lw=2.5)
sns.lineplot(x=es_rank, y=es_score, color="#22dd22", lw=1.8, sort=False, estimator=None, ax=ax)
ax.tick_params(length=0, labelsize=24, pad=10, labelcolor="#222222")
ax.set_xlabel("")
ax.set_ylabel("")
ax.text(50, -0.445, "NES = -2.05", fontsize=26.5, va="center", color="#111111")
put(2572, 3417, "Hallmark", 35, family="Roboto", color="#111111")
put(2572, 3473, "Oxidative phosphorylation", 35, family="Roboto", color="#111111")
put(2587, 3720, "enrichment score", 30, ha="center", rotation=90, family="DejaVu Sans", color="#111111")
put(3167, 3972, "rank", 32, ha="center", color="#111111")
panel_letter(2452, 3436, "h")

fig.savefig("out.png", dpi=100, facecolor="white")
